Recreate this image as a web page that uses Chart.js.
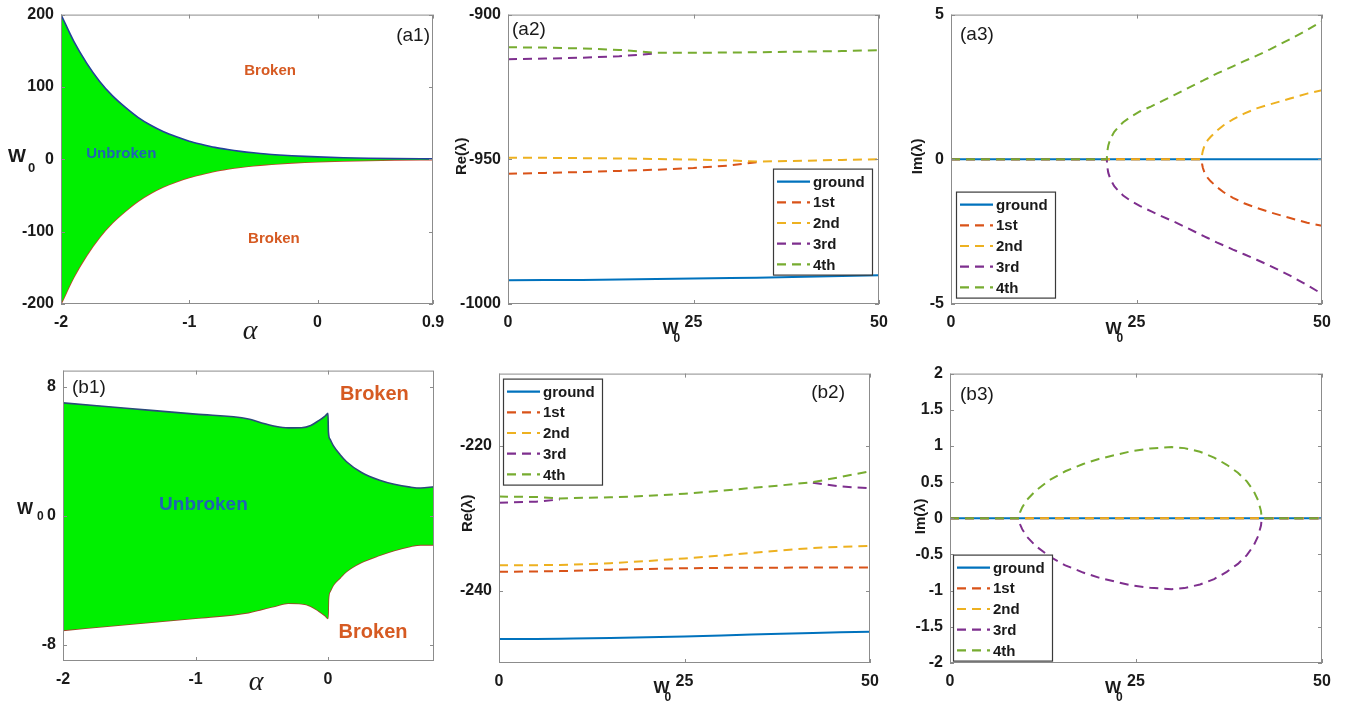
<!DOCTYPE html>
<html>
<head>
<meta charset="utf-8">
<script src="https://cdn.jsdelivr.net/npm/chart.js@4.4.1/dist/chart.umd.min.js"></script>
<style>
  body { margin: 0; background: #fff; }
  #fig { position: relative; width: 1345px; height: 703px; overflow: hidden; background: #fff; }
  #fig canvas { position: absolute; }
</style>
</head>
<body>
<div id="fig"></div>
<script>
// mode colours (MATLAB default order)
var C_GROUND = '#0072BD', C_1ST = '#D95319', C_2ND = '#EDB120', C_3RD = '#7E2F8E', C_4TH = '#77AC30';
var MODE_LABELS = ['ground', '1st', '2nd', '3rd', '4th'];

// (a1) phase boundary vs alpha
var alphaA1 = [-2, -1.9, -1.8, -1.7, -1.6, -1.5, -1.4, -1.3, -1.2, -1.1, -1.0, -0.9, -0.8, -0.7, -0.6, -0.5, -0.4, -0.3, -0.2, -0.1, 0, 0.2, 0.4, 0.6, 0.9];
var upperA1 = [200, 163, 133, 108, 88, 72, 58, 47, 38, 31, 25, 20.5, 16.5, 13.5, 11, 9, 7.3, 6, 4.9, 4, 3.3, 2.2, 1.5, 1.0, 0.6];
var lowerA1 = [-200, -163, -133, -108, -88, -72, -58, -47, -38, -31, -25, -20.5, -16.5, -13.5, -11, -9, -7.3, -6, -4.9, -4, -3.3, -2.2, -1.5, -1.0, -0.6];

// (b1) phase boundary vs alpha
var alphaB1 = [-2, -1.5, -1.0, -0.6, -0.5, -0.4, -0.3, -0.2, -0.13, -0.07, -0.02, 0, 0.003, 0.015, 0.04, 0.09, 0.14, 0.25, 0.39, 0.5, 0.62, 0.7, 0.8];
var upperB1 = [7.0, 6.65, 6.3, 6.0, 5.75, 5.55, 5.45, 5.46, 5.6, 5.9, 6.2, 6.35, 5.2, 4.75, 4.35, 3.8, 3.35, 2.7, 2.2, 1.95, 1.78, 1.72, 1.8];
var lowerB1 = [-7.1, -6.72, -6.35, -6.0, -5.8, -5.6, -5.42, -5.45, -5.6, -5.9, -6.2, -6.36, -5.2, -4.7, -4.3, -3.86, -3.45, -2.9, -2.45, -2.15, -1.9, -1.8, -1.8];

// (a2) Re(lambda) vs W0
var w0A2 = [0, 5, 10, 15, 20, 25, 30, 33.5, 40, 45, 50];
var reA2 = [
  [-991.8, -991.75, -991.7, -991.55, -991.4, -991.2, -991.0, -990.9, -990.6, -990.35, -990.1],
  [-955.0, -954.7, -954.4, -954.0, -953.6, -953.0, -952.1, -951.0, null, null, null],
  [-949.5, -949.5, -949.6, -949.7, -949.9, -950.1, -950.4, -950.8, -950.5, -950.2, -950.0],
  [-915.4, -915.2, -914.9, -914.4, -913.4, null, null, null, null, null, null],
  [-911.3, -911.4, -911.7, -912.2, -913.2, -913.2, -913.1, -913.0, -912.8, -912.6, -912.3]
];

// (a3) Im(lambda) vs W0
var w0A3 = [0, 10, 20, 21, 21.05, 21.2, 21.5, 22, 22.6, 23.2, 24.3, 25.5, 27, 28.5, 30, 31.5, 33, 33.8, 33.85, 33.95, 34.2, 34.6, 35, 35.8, 36.7, 38, 39.5, 41.2, 43, 45.7, 48, 50];
var imA3 = [
  [0, 0, 0, 0, 0, 0, 0, 0, 0, 0, 0, 0, 0, 0, 0, 0, 0, 0, 0, 0, 0, 0, 0, 0, 0, 0, 0, 0, 0, 0, 0, 0],
  [0, 0, 0, 0, 0, 0, 0, 0, 0, 0, 0, 0, 0, 0, 0, 0, 0, 0,
   -0.18, -0.3, -0.49, -0.64, -0.76, -0.95, -1.13, -1.33, -1.52, -1.68, -1.83, -2.03, -2.19, -2.3],
  [0, 0, 0, 0, 0, 0, 0, 0, 0, 0, 0, 0, 0, 0, 0, 0, 0, 0,
   0.18, 0.3, 0.5, 0.66, 0.78, 0.98, 1.17, 1.38, 1.58, 1.76, 1.9, 2.1, 2.27, 2.39],
  [0, 0, 0, 0,
   -0.25, -0.47, -0.7, -0.93, -1.1, -1.25, -1.45, -1.62, -1.8, -1.98, -2.15, -2.33, -2.52, -2.62,
   -2.63, -2.64, -2.67, -2.72, -2.77, -2.87, -2.97, -3.12, -3.28, -3.47, -3.68, -4.02, -4.35, -4.65],
  [0, 0, 0, 0,
   0.25, 0.48, 0.72, 0.95, 1.13, 1.28, 1.48, 1.66, 1.83, 2.02, 2.21, 2.4, 2.6, 2.7,
   2.71, 2.72, 2.75, 2.8, 2.86, 2.96, 3.06, 3.21, 3.39, 3.58, 3.8, 4.15, 4.47, 4.77]
];

// (b2) Re(lambda) vs W0
var w0B2 = [0, 5, 8.2, 10, 15, 20, 25, 30, 34, 38, 42.3, 46, 50];
var reB2 = [
  [-246.7, -246.68, -246.65, -246.63, -246.55, -246.45, -246.35, -246.2, -246.05, -245.95, -245.85, -245.75, -245.67],
  [-237.4, -237.35, -237.3, -237.25, -237.1, -237.0, -236.9, -236.85, -236.85, -236.82, -236.8, -236.8, -236.8],
  [-236.5, -236.48, -236.45, -236.4, -236.2, -235.9, -235.55, -235.15, -234.8, -234.45, -234.1, -233.95, -233.8],
  [-227.85, -227.7, -227.4, null, null, null, null, null, null, null, -225.1, -225.6, -225.85],
  [-227.0, -227.05, -227.25, -227.2, -227.1, -226.9, -226.6, -226.2, -225.8, -225.45, -225.0, -224.3, -223.5]
];

// (b3) Im(lambda) vs W0
var w0B3 = [0, 5, 9.3, 9.4, 9.7, 10.3, 11.5, 13.4, 15.5, 17.9, 20, 22.4, 24.5, 26.9, 29.8, 31.5, 33.6, 35.5, 37.2, 38.7, 39.9, 40.8, 41.4, 41.8, 41.9, 45, 50];
var imB3 = [
  [0, 0, 0, 0, 0, 0, 0, 0, 0, 0, 0, 0, 0, 0, 0, 0, 0, 0, 0, 0, 0, 0, 0, 0, 0, 0, 0],
  [0, 0, 0, 0, 0, 0, 0, 0, 0, 0, 0, 0, 0, 0, 0, 0, 0, 0, 0, 0, 0, 0, 0, 0, 0, 0, 0],
  [0, 0, 0, 0, 0, 0, 0, 0, 0, 0, 0, 0, 0, 0, 0, 0, 0, 0, 0, 0, 0, 0, 0, 0, 0, 0, 0],
  [0, 0, 0, -0.08, -0.15, -0.25, -0.38, -0.53, -0.65, -0.75, -0.82, -0.88, -0.93, -0.96, -0.98, -0.965, -0.915, -0.84, -0.74, -0.63, -0.51, -0.38, -0.25, -0.1, 0, 0, 0],
  [0, 0, 0, 0.08, 0.15, 0.25, 0.38, 0.53, 0.65, 0.75, 0.82, 0.88, 0.93, 0.965, 0.985, 0.97, 0.92, 0.84, 0.74, 0.63, 0.51, 0.38, 0.25, 0.1, 0, 0, 0]
];

var MODE_COLORS = [C_GROUND, C_1ST, C_2ND, C_3RD, C_4TH];
var TICK_FONT = { family: 'Liberation Sans, Arial, sans-serif', size: 16, weight: 'bold' };
var DASH = [9, 6];

function pts(xs, ys) {
  return xs.map(function (x, i) { return { x: x, y: ys[i] }; });
}

// one dataset per mode, later modes drawn on top like MATLAB
function modeSets(xs, rows) {
  return rows.map(function (ys, i) {
    return {
      label: MODE_LABELS[i],
      data: pts(xs, ys),
      borderColor: MODE_COLORS[i],
      borderWidth: 2,
      borderDash: i === 0 ? [] : DASH,
      pointRadius: 0,
      fill: false,
      spanGaps: false,
      tension: 0,
      order: 4 - i
    };
  });
}

function drawW0(ctx, x, y, big, small, subDx, subDy) {
  ctx.font = 'bold ' + big + 'px Liberation Sans, Arial, sans-serif';
  ctx.textAlign = 'left';
  ctx.textBaseline = 'alphabetic';
  ctx.fillStyle = '#1a1a1a';
  ctx.fillText('W', x, y);
  ctx.font = 'bold ' + small + 'px Liberation Sans, Arial, sans-serif';
  ctx.fillText('0', x + subDx, y + subDy);
}

var decor = {
  id: 'decor',
  afterDraw: function (chart, args, o) {
    var ctx = chart.ctx, a = chart.chartArea, xs = chart.scales.x, ys = chart.scales.y;
    ctx.save();

    // axes box with inward tick marks
    ctx.strokeStyle = '#8c8c8c';
    ctx.lineWidth = 1;
    ctx.setLineDash([]);
    ctx.strokeRect(a.left + 0.5, a.top + 0.5, a.right - a.left - 1, a.bottom - a.top - 1);
    ctx.beginPath();
    xs.ticks.forEach(function (t) {
      var px = Math.round(xs.getPixelForValue(t.value)) + 0.5;
      ctx.moveTo(px, a.bottom); ctx.lineTo(px, a.bottom - 4);
      ctx.moveTo(px, a.top); ctx.lineTo(px, a.top + 4);
    });
    ys.ticks.forEach(function (t) {
      var py = Math.round(ys.getPixelForValue(t.value)) + 0.5;
      ctx.moveTo(a.left, py); ctx.lineTo(a.left + 4, py);
      ctx.moveTo(a.right, py); ctx.lineTo(a.right - 4, py);
    });
    ctx.stroke();

    // region labels in data coordinates
    (o.notes || []).forEach(function (n) {
      ctx.font = 'bold ' + n.size + 'px Liberation Sans, Arial, sans-serif';
      ctx.fillStyle = n.color;
      ctx.textAlign = 'center';
      ctx.textBaseline = 'middle';
      ctx.fillText(n.text, xs.getPixelForValue(n.x), ys.getPixelForValue(n.y));
    });

    // panel tag
    if (o.tag) {
      ctx.font = '19px Liberation Sans, Arial, sans-serif';
      ctx.fillStyle = '#1a1a1a';
      ctx.textBaseline = 'middle';
      if (o.tag.right) {
        ctx.textAlign = 'right';
        ctx.fillText(o.tag.text, a.right - o.tag.dx, a.top + o.tag.dy);
      } else {
        ctx.textAlign = 'left';
        ctx.fillText(o.tag.text, a.left + o.tag.dx, a.top + o.tag.dy);
      }
    }

    // rotated y title
    if (o.yTitle) {
      ctx.save();
      ctx.translate(a.left + o.yTitle.dx, (a.top + a.bottom) / 2 + o.yTitle.dy);
      ctx.rotate(-Math.PI / 2);
      ctx.font = 'bold 15px Liberation Sans, Arial, sans-serif';
      ctx.fillStyle = '#1a1a1a';
      ctx.textAlign = 'center';
      ctx.textBaseline = 'middle';
      ctx.fillText(o.yTitle.text, 0, 0);
      ctx.restore();
    }

    // W0 as y title (phase diagrams)
    if (o.wLeft) {
      var zy = ys.getPixelForValue(0);
      drawW0(ctx, a.left + o.wLeft.dx, zy + o.wLeft.dy, o.wLeft.big, o.wLeft.small, o.wLeft.subDx, o.wLeft.subDy);
    }
    // W0 as x title, sitting next to the middle tick
    if (o.wBottom) {
      var tx = xs.getPixelForValue(25);
      ctx.font = 'bold 17px Liberation Sans, Arial, sans-serif';
      var ww = ctx.measureText('W').width;
      drawW0(ctx, tx - 15 - ww, a.bottom + 30, 17, 12, ww - 5, 8);
    }
    // alpha as x title
    if (o.alpha) {
      ctx.font = 'italic 28px Liberation Serif, serif';
      ctx.fillStyle = '#1a1a1a';
      ctx.textAlign = 'center';
      ctx.textBaseline = 'middle';
      ctx.fillText('\u03b1', a.left + o.alpha.dx, a.bottom + o.alpha.dy);
    }

    // boxed legend
    if (o.legend) {
      var lx = a.left + o.legend.dx, ly = a.top + o.legend.dy;
      ctx.fillStyle = '#fff';
      ctx.fillRect(lx, ly, 99, 106);
      ctx.strokeStyle = '#3a3a3a';
      ctx.lineWidth = 1.2;
      ctx.setLineDash([]);
      ctx.strokeRect(lx + 0.5, ly + 0.5, 99, 106);
      chart.data.datasets.forEach(function (d, i) {
        var ry = ly + 13 + i * 20.7;
        ctx.strokeStyle = d.borderColor;
        ctx.lineWidth = 2.2;
        ctx.setLineDash(d.borderDash || []);
        ctx.beginPath();
        ctx.moveTo(lx + 4, ry);
        ctx.lineTo(lx + 37, ry);
        ctx.stroke();
        ctx.setLineDash([]);
        ctx.font = 'bold 15px Liberation Sans, Arial, sans-serif';
        ctx.fillStyle = '#1a1a1a';
        ctx.textAlign = 'left';
        ctx.textBaseline = 'middle';
        ctx.fillText(d.label, lx + 40, ry + 1);
      });
    }
    ctx.restore();
  }
};

// box = plot area [left, top, right, bottom] in page pixels
function panel(box, datasets, sc, deco) {
  var padT = 14, padR = 22, yw = 60, xh = 42;
  var cv = document.createElement('canvas');
  cv.width = box[2] - box[0] + yw + padR;
  cv.height = box[3] - box[1] + padT + xh;
  cv.style.left = (box[0] - yw) + 'px';
  cv.style.top = (box[1] - padT) + 'px';
  document.getElementById('fig').appendChild(cv);

  function axis(min, max, ticks, pad, fit) {
    return {
      type: 'linear', min: min, max: max,
      grid: { display: false, drawTicks: false },
      border: { display: false },
      ticks: {
        font: TICK_FONT, color: '#1a1a1a', padding: pad, autoSkip: false, maxRotation: 0,
        callback: function (v) { return String(v); }
      },
      afterBuildTicks: function (s) { s.ticks = ticks.map(function (v) { return { value: v }; }); },
      afterFit: fit
    };
  }

  return new Chart(cv.getContext('2d'), {
    type: 'line',
    data: { datasets: datasets },
    options: {
      responsive: false,
      animation: false,
      layout: { padding: { top: padT, right: padR, left: 0, bottom: 0 } },
      scales: {
        x: axis(sc.x[0], sc.x[1], sc.xt, 9, function (s) { s.height = xh; }),
        y: axis(sc.y[0], sc.y[1], sc.yt, 7, function (s) { s.width = yw; })
      },
      plugins: { legend: { display: false }, tooltip: { enabled: false }, decor: deco }
    },
    plugins: [decor]
  });
}

function edgeSets(xs, up, low, upColor, lowColor) {
  return [
    { data: pts(xs, up), borderColor: upColor, borderWidth: 1.6, pointRadius: 0,
      backgroundColor: '#00f000', fill: '+1', cubicInterpolationMode: 'monotone' },
    { data: pts(xs, low), borderColor: lowColor, borderWidth: 1.6, pointRadius: 0,
      fill: false, cubicInterpolationMode: 'monotone' }
  ];
}

var BROKEN = '#d65a22', UNBROKEN = '#2063b3';

panel([61, 12, 433, 304], edgeSets(alphaA1, upperA1, lowerA1, '#23409a', '#c2412a'),
  { x: [-2, 0.9], xt: [-2, -1, 0, 0.9], y: [-200, 200], yt: [-200, -100, 0, 100, 200] },
  {
    notes: [
      { text: 'Unbroken', x: -1.53, y: 8, color: UNBROKEN, size: 15 },
      { text: 'Broken', x: -0.37, y: 122, color: BROKEN, size: 15 },
      { text: 'Broken', x: -0.34, y: -110, color: BROKEN, size: 15 }
    ],
    tag: { text: '(a1)', dx: 3, dy: 21, right: true },
    wLeft: { dx: -53, dy: 3, big: 19, small: 13, subDx: 20, subDy: 10 },
    alpha: { dx: 189, dy: 28 }
  });

panel([508, 12, 879, 304], modeSets(w0A2, reA2),
  { x: [0, 50], xt: [0, 25, 50], y: [-1000, -900], yt: [-1000, -950, -900] },
  {
    tag: { text: '(a2)', dx: 4, dy: 15 },
    yTitle: { text: 'Re(\u03bb)', dx: -46, dy: -3 },
    wBottom: true,
    legend: { dx: 265, dy: 154 }
  });

panel([951, 12, 1322, 304], modeSets(w0A3, imA3),
  { x: [0, 50], xt: [0, 25, 50], y: [-5, 5], yt: [-5, 0, 5] },
  {
    tag: { text: '(a3)', dx: 9, dy: 20 },
    yTitle: { text: 'Im(\u03bb)', dx: -33, dy: -3 },
    wBottom: true,
    legend: { dx: 5, dy: 177 }
  });

panel([63, 368, 434, 661], edgeSets(alphaB1, upperB1, lowerB1, '#2b4a7a', '#a0432a'),
  { x: [-2, 0.8], xt: [-2, -1, 0], y: [-9, 9], yt: [-8, 0, 8] },
  {
    notes: [
      { text: 'Unbroken', x: -0.94, y: 0.7, color: UNBROKEN, size: 19 },
      { text: 'Broken', x: 0.35, y: 7.5, color: BROKEN, size: 20 },
      { text: 'Broken', x: 0.34, y: -7.25, color: BROKEN, size: 20 }
    ],
    tag: { text: '(b1)', dx: 9, dy: 17 },
    wLeft: { dx: -46, dy: -2, big: 17, small: 12, subDx: 20, subDy: 6 },
    alpha: { dx: 193, dy: 22 }
  });

panel([499, 371, 870, 663], modeSets(w0B2, reB2),
  { x: [0, 50], xt: [0, 25, 50], y: [-250, -210], yt: [-240, -220] },
  {
    tag: { text: '(b2)', dx: 25, dy: 19, right: true },
    yTitle: { text: 'Re(\u03bb)', dx: -31, dy: -5 },
    wBottom: true,
    legend: { dx: 4, dy: 5 }
  });

panel([950, 371, 1322, 663], modeSets(w0B3, imB3),
  { x: [0, 50], xt: [0, 25, 50], y: [-2, 2], yt: [-2, -1.5, -1, -0.5, 0, 0.5, 1, 1.5, 2] },
  {
    tag: { text: '(b3)', dx: 10, dy: 21 },
    yTitle: { text: 'Im(\u03bb)', dx: -29, dy: -2 },
    wBottom: true,
    legend: { dx: 3, dy: 181 }
  });
</script>
</body>
</html>
